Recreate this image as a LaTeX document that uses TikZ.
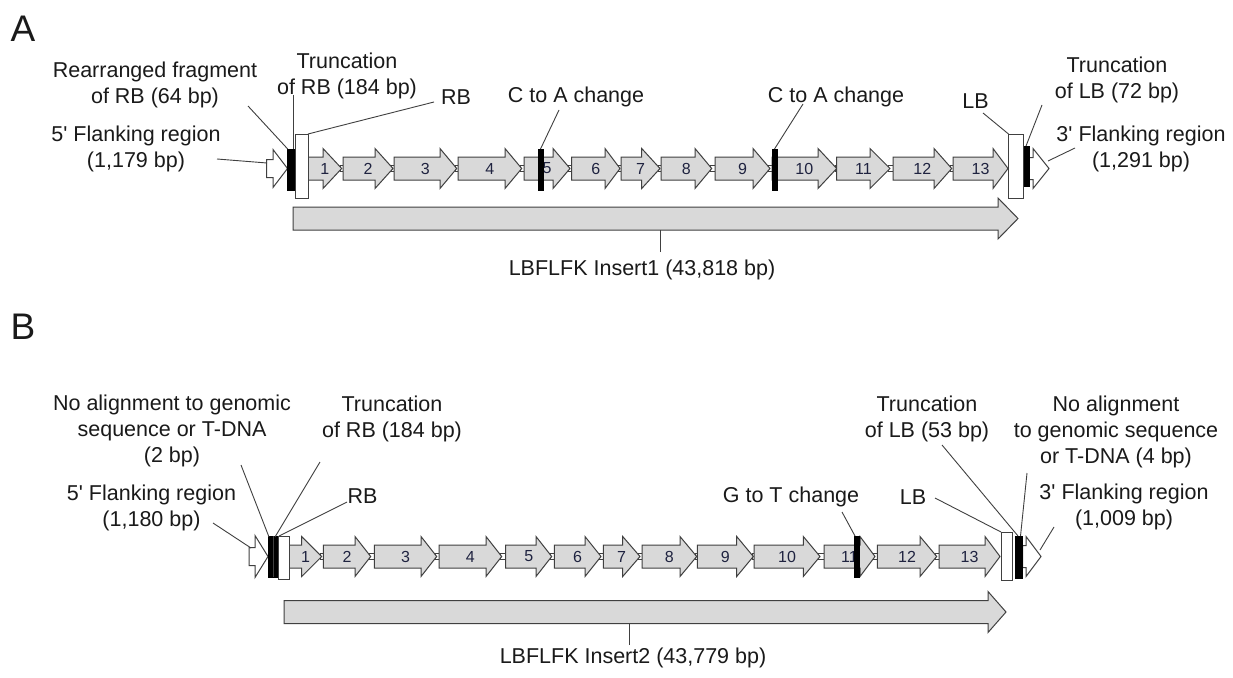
\documentclass[tikz,border=0pt]{standalone}
\usepackage{fontspec}
\setmainfont{Liberation Sans}[Ligatures=TeXOff]
\definecolor{ln}{HTML}{404040}
\definecolor{gfill}{HTML}{D9D9D9}
\definecolor{txt}{HTML}{1A1A1A}
\definecolor{numc}{HTML}{1F2340}
\newcommand{\garrow}[6]{%
  \draw[gene] (#1,#4-11.5) -- (#2,#4-11.5) -- (#2,#4-20) -- (#3,#4) -- (#2,#4+20) -- (#2,#4+11.5) -- (#1,#4+11.5) -- cycle;
  \node[num,anchor=center] (#6) at ({(#1+#3)/2},#4) {#5};}
\newcommand{\warrow}[6]{%
  \draw[wbox] (#1,#4-#5) -- (#2,#4-#5) -- (#2,#4-#6) -- (#3,#4) -- (#2,#4+#6) -- (#2,#4+#5) -- (#1,#4+#5) -- cycle;}
\begin{document}
\begin{tikzpicture}[x=1pt,y=-1pt,
  gene/.style={draw=ln,fill=gfill,line width=1pt,line join=miter},
  wbox/.style={draw=ln,fill=white,line width=1pt},
  conn/.style={draw=ln,fill=white,line width=0.6pt},
  bbar/.style={draw=black,fill=black,line width=0.5pt},
  lead/.style={draw=ln,line width=0.9pt},
  lbl/.style={font=\fontsize{21.5}{26}\selectfont,text=txt,align=center,inner sep=0pt},
  num/.style={font=\fontsize{16}{18}\selectfont,text=numc,inner sep=0pt},
  ttl/.style={font=\fontsize{37}{40}\selectfont,text=txt,inner sep=0pt}]
\useasboundingbox (0,0) rectangle (1233,677);
\fill[white] (0,0) rectangle (1233,677);

% ---------------- Panel A ----------------
\node[ttl] (titleA) at (23,28.5) {A};

% connectors between genes
\foreach \p/\q in {341.7/343,393/394,456.7/458,521.7/524,570/571.7,620/621,660/661,711.7/715,770/772,836.7/836.7,890/893,951.7/953}
  {\draw[conn] (\p-1.5,165.5) rectangle (\q+1.5,171.5);}

\warrow{266.5}{273}{287.5}{168.5}{9}{19}
\warrow{1029}{1033}{1049}{168.5}{11}{20}

\foreach \xa/\xb/\xc/\gn in {308/323/341.7/1,343/375/393/2,394/440/456.7/3,458/505/521.7/4,524/553/570/5,571.7/605/620/6,621/641.7/660/7,661/695/711.7/8,715/753/770/9,772/818/836.7/10,836.7/870/890/11,893/934/951.7/12,953/993/1008/13}
  {\garrow{\xa}{\xb}{\xc}{168.5}{\gn}{gA\gn}}

\draw[bbar] (287.7,149) rectangle (295,190);
\draw[wbox] (295.7,134) rectangle (308,198);
\draw[bbar] (538,149) rectangle (543,190);
\draw[bbar] (772,149) rectangle (777.3,190);
\draw[wbox] (1008.5,134) rectangle (1023.5,198);
\draw[bbar] (1024,146) rectangle (1029,186);

\draw[gene] (293,207) -- (998,207) -- (998,198) -- (1018,218.5) -- (998,239) -- (998,230) -- (293,230) -- cycle;

% target coordinates A
\coordinate (fA5) at (267,163);
\coordinate (rbfragA) at (287.7,149);
\coordinate (truncRBA) at (293,149);
\coordinate (rbA) at (308,134);
\coordinate (mutA1) at (540.5,149);
\coordinate (mutA2) at (774.5,149);
\coordinate (lbA) at (1008.5,134);
\coordinate (truncLBA) at (1026,146);
\coordinate (fA3) at (1048,161);
\coordinate (insA) at (660,230);

% labels A
\node[lbl] (tA1) at (155,84.5) {Rearranged fragment\\of RB (64 bp)};
\node[lbl] (tA2) at (136,148.5) {5' Flanking region\\(1,179 bp)};
\node[lbl] (tA3) at (347,76) {Truncation\\of RB (184 bp)};
\node[lbl] (tA4) at (456,97) {RB};
\node[lbl] (tA5) at (576,97) {C to A change};
\node[lbl] (tA6) at (836,97) {C to A change};
\node[lbl] (tA7) at (975.5,101) {LB};
\node[lbl] (tA8) at (1117,80) {Truncation\\of LB (72 bp)};
\node[lbl] (tA9) at (1141,148.5) {3' Flanking region\\(1,291 bp)};
\node[lbl] (tA10) at (642,270) {LBFLFK Insert1 (43,818 bp)};

\coordinate (eA1) at (248,106);
\coordinate (eA2) at (217,159);
\coordinate (eA3) at (293,95);
\coordinate (eA4) at (434,102);
\coordinate (eA5) at (559,110);
\coordinate (eA6) at (803,104);
\coordinate (eA7) at (983,113);
\coordinate (eA8) at (1042,105);
\coordinate (eA9) at (1075,148);
\coordinate (eA10) at (660,252);

\draw[lead] (eA1) -- (rbfragA);
\draw[lead] (eA2) -- (fA5);
\draw[lead] (eA3) -- (truncRBA);
\draw[lead] (eA4) -- (rbA);
\draw[lead] (eA5) -- (mutA1);
\draw[lead] (eA6) -- (mutA2);
\draw[lead] (eA7) -- (lbA);
\draw[lead] (eA8) -- (truncLBA);
\draw[lead] (eA9) -- (fA3);
\draw[lead] (eA10) -- (insA);

% ---------------- Panel B ----------------
\node[ttl] (titleB) at (23,327) {B};

\foreach \p/\q in {321.7/323.3,370.7/374.3,436.7/439,501.7/505.7,551.7/554.3,601/603.3,640/642,696.7/697.3,753.3/754,820/824,875/877.3,936.7/939}
  {\draw[conn] (\p-1.5,553.5) rectangle (\q+1.5,559.5);}

\warrow{249}{255}{268}{556.5}{9}{21}
\warrow{1022.7}{1026}{1041}{556.5}{11}{20}

\foreach \xa/\xb/\xc/\gn in {289.3/301.7/321.7/1,323.3/355/370.7/2,374.3/421/436.7/3,439/486/501.7/4,505.7/536/551.7/5,554.3/585/601/6,603.3/622.7/640/7,642/680/696.7/8,697.3/736.7/753.3/9,754/803.3/820/10,824/860/875/11,877.3/920/936.7/12,939/985/1000/13}
  {\garrow{\xa}{\xb}{\xc}{556.5}{\gn}{gB\gn}}

\draw[bbar] (268,536) rectangle (278,577);
\draw[draw=ln,line width=0.7pt] (273,536) -- (273,577);
\draw[wbox] (278,536) rectangle (289,579);
\draw[bbar] (854.3,536) rectangle (859,577);
\draw[wbox] (1001,532) rectangle (1012.7,580);
\draw[bbar] (1015,536) rectangle (1022.7,578);

\draw[gene] (284,600.5) -- (988,600.5) -- (988,591.5) -- (1006,612) -- (988,632.5) -- (988,623.5) -- (284,623.5) -- cycle;

% target coordinates B
\coordinate (noalB1) at (269,537);
\coordinate (fB5) at (251,548);
\coordinate (truncRBB) at (275,537);
\coordinate (rbB) at (279,536);
\coordinate (mutB) at (855,536);
\coordinate (lbB) at (1001,532);
\coordinate (truncLBB) at (1018,536);
\coordinate (noalB2) at (1020.5,536);
\coordinate (fB3) at (1040,550);
\coordinate (insB) at (629.5,623.5);

% labels B
\node[lbl] (tB1) at (172,431) {No alignment to genomic\\sequence or T-DNA\\(2 bp)};
\node[lbl] (tB2) at (151.5,508) {5' Flanking region\\(1,180 bp)};
\node[lbl] (tB3) at (392,419) {Truncation\\of RB (184 bp)};
\node[lbl] (tB4) at (362.5,496) {RB};
\node[lbl] (tB5) at (791,497) {G to T change};
\node[lbl] (tB6) at (913,497) {LB};
\node[lbl] (tB7) at (927,419) {Truncation\\of LB (53 bp)};
\node[lbl] (tB8) at (1116,432) {No alignment\\to genomic sequence\\or T-DNA (4 bp)};
\node[lbl] (tB9) at (1124,506.5) {3' Flanking region\\(1,009 bp)};
\node[lbl] (tB10) at (633,658) {LBFLFK Insert2 (43,779 bp)};

\coordinate (eB1) at (241,465);
\coordinate (eB2) at (213,523);
\coordinate (eB3) at (320,462);
\coordinate (eB4) at (347,502);
\coordinate (eB5) at (842,512);
\coordinate (eB6) at (935,498);
\coordinate (eB7) at (942,445);
\coordinate (eB8) at (1027,473);
\coordinate (eB9) at (1054,527);
\coordinate (eB10) at (629.5,645);

\draw[lead] (eB1) -- (noalB1);
\draw[lead] (eB2) -- (fB5);
\draw[lead] (eB3) -- (truncRBB);
\draw[lead] (eB4) -- (rbB);
\draw[lead] (eB5) -- (mutB);
\draw[lead] (eB6) -- (lbB);
\draw[lead] (eB7) -- (truncLBB);
\draw[lead] (eB8) -- (noalB2);
\draw[lead] (eB9) -- (fB3);
\draw[lead] (eB10) -- (insB);
\end{tikzpicture}
\end{document}
